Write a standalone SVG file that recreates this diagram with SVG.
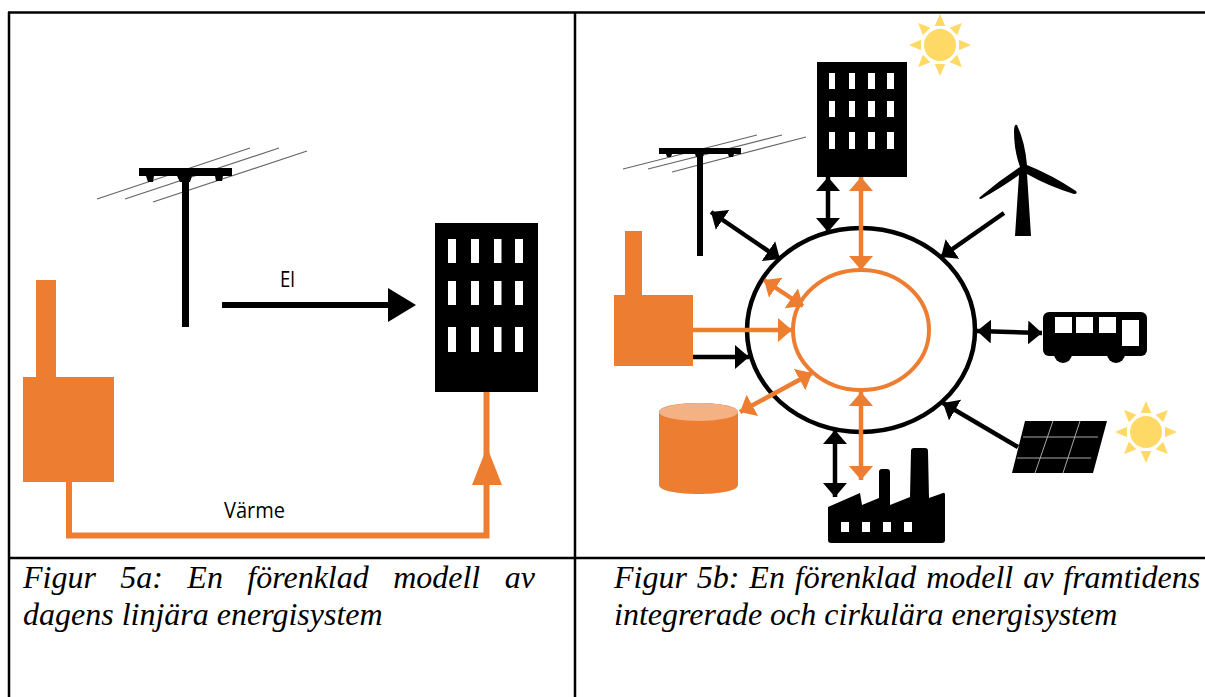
<svg xmlns="http://www.w3.org/2000/svg" width="1205" height="697" viewBox="0 0 1205 697">
<style>
.frame{stroke:#000;stroke-width:2.5;fill:none}
.or{fill:#ED7D31}
.bk{fill:#000}
.wh{fill:#fff}
.sun{fill:#FFD966}
.wire{stroke:#666;stroke-width:1.2;fill:none}
.lb{stroke:#000;fill:none}
.lo{stroke:#ED7D31;fill:none}
.cap{font-family:"Liberation Serif",serif;font-style:italic;font-size:32px;fill:#000}
.lab{font-family:"Open Sans","Liberation Sans",sans-serif;font-size:21px;fill:#000}
</style>
<defs>
<marker id="hb" viewBox="0 0 14 24" refX="14" refY="12" markerUnits="userSpaceOnUse" markerWidth="14" markerHeight="24" orient="auto-start-reverse"><path d="M0 0L14 12L0 24z" fill="#000"/></marker>
<marker id="ho" viewBox="0 0 14 24" refX="14" refY="12" markerUnits="userSpaceOnUse" markerWidth="14" markerHeight="24" orient="auto-start-reverse"><path d="M0 0L14 12L0 24z" fill="#ED7D31"/></marker>
<g id="ray"><path d="M0 -31L5.300 -19L-5.300 -19z" class="sun"/></g>
<g id="sunshape"><circle r="16" class="sun"/><use href="#ray"/><use href="#ray" transform="rotate(45)"/><use href="#ray" transform="rotate(90)"/><use href="#ray" transform="rotate(135)"/><use href="#ray" transform="rotate(180)"/><use href="#ray" transform="rotate(225)"/><use href="#ray" transform="rotate(270)"/><use href="#ray" transform="rotate(315)"/></g>
</defs>
<rect width="1205" height="697" fill="#fff"/>
<g id="table" class="frame"><path d="M8 12.500H1205M9 12V697M575 12V697M8 558H1205"/></g>

<g id="pole-a">
<path class="wire" d="M97 199L250 148M125 199L279 148M153 202L307 151"/>
<path class="bk" d="M139 168H232V176H223L222 181H216L215 176H192L190 182H189V327H182V182H180L177 176H154L153 182H148L146 176H139z"/>
</g>
<g id="factory-a"><path class="or" d="M36 280H56V377H114V482H23V377H36z"/></g>
<g id="building-a">
<rect x="435" y="223" width="103" height="169" class="bk"/>
<g class="wh"><rect x="448" y="239" width="8" height="24"/><rect x="471" y="239" width="8" height="24"/><rect x="494" y="239" width="7.500" height="24"/><rect x="515" y="239" width="8" height="24"/><rect x="448" y="281" width="8" height="24"/><rect x="471" y="281" width="8" height="24"/><rect x="494" y="281" width="7.500" height="24"/><rect x="515" y="281" width="8" height="24"/><rect x="448" y="327" width="8" height="25"/><rect x="471" y="327" width="8" height="25"/><rect x="494" y="327" width="7.500" height="25"/><rect x="515" y="327" width="8" height="25"/></g>
</g>
<g id="connectors-a">
<path class="bk" d="M222 302H388V288L416 305L388 322V308H222z"/>
<path class="lo" stroke-width="6" d="M69 482V535.500H486.500V392"/>
<path class="or" d="M472 485L487 447L502 485z"/>
<text class="lab" x="280" y="287" textLength="15" lengthAdjust="spacingAndGlyphs">El</text>
<text class="lab" x="224" y="518" textLength="61" lengthAdjust="spacingAndGlyphs">Värme</text>
</g>

<g id="pole-b">
<path class="wire" d="M623 169L757 135M648 169L782 135M672 172L806 137"/>
<path class="bk" d="M659 148H741V154H734L733 157H729L728 154H704L703 157V256H697V157H696L695 154H672L671 157H667L666 154H659z"/>
</g>
<g id="building-b">
<rect x="817" y="62" width="90" height="115" class="bk"/>
<g class="wh"><rect x="829" y="73" width="6" height="16"/><rect x="849" y="73" width="6" height="16"/><rect x="868" y="73" width="7" height="16"/><rect x="887" y="73" width="7" height="16"/><rect x="829" y="101" width="6" height="16"/><rect x="849" y="101" width="6" height="16"/><rect x="868" y="101" width="7" height="16"/><rect x="887" y="101" width="7" height="16"/><rect x="829" y="132" width="6" height="17"/><rect x="849" y="132" width="6" height="17"/><rect x="868" y="132" width="7" height="17"/><rect x="887" y="132" width="7" height="17"/></g>
</g>
<g id="sun-top"><use href="#sunshape" x="940" y="45"/></g>
<g id="turbine"><path class="bk" d="M1015 236L1019 175Q1004 186 981 199Q978 199 980 197Q1000 180 1020 167Q1014 150 1014 132Q1014 123 1017 125Q1025 142 1027 165Q1052 175 1076 191Q1078 194 1074 194Q1048 186 1027 174L1031 236z"/></g>
<g id="bus">
<rect x="1043" y="312" width="104" height="44" rx="6" class="bk"/><circle cx="1063" cy="354" r="9" class="bk"/><circle cx="1116" cy="354" r="9" class="bk"/>
<g class="wh"><rect x="1055" y="317" width="17" height="16"/><rect x="1076" y="317" width="17" height="16"/><rect x="1099" y="317" width="17" height="16"/><rect x="1122" y="320" width="17" height="26"/></g>
</g>
<g id="solar">
<path class="bk" d="M1025 421H1107L1093 473H1012z"/>
<path d="M1023 437H1098M1017 458H1091M1053 421L1035 473M1080 421L1063 473" stroke="#aaa" stroke-width="1" fill="none"/>
</g>
<g id="sun-solar"><use href="#sunshape" x="1146" y="432"/></g>
<g id="factory-b"><path class="or" d="M625 231H642V295H693V366H614V295H625z"/></g>
<g id="storage"><path class="or" d="M659 412C659 400 738 400 738 412V485C738 497 659 497 659 485z"/><ellipse cx="698.500" cy="412" rx="39.500" ry="9" fill="#F4B183"/></g>
<g id="factory-c"><path class="bk" d="M828 507L860 493L862 505L879 498V472Q879 469 882 469H887Q890 469 890 472V505L910 497L911 451Q911 448 914 448H925Q928 448 928 451L929 498L943 493Q945 492 945 495V540Q945 543 942 543H831Q828 543 828 540z"/><g class="wh"><rect x="841" y="522" width="8" height="10"/><rect x="862" y="522" width="8" height="10"/><rect x="883" y="522" width="8" height="10"/><rect x="904" y="522" width="8" height="10"/></g></g>
<g id="connectors-b">
<ellipse cx="861" cy="330" rx="114" ry="102" class="lb" stroke-width="4.500"/>
<ellipse cx="861" cy="330" rx="68" ry="60" class="lo" stroke-width="4"/>
<g class="lb" stroke-width="4.500">
<path d="M828 177V232" marker-start="url(#hb)" marker-end="url(#hb)"/>
<path d="M711 212L780 259" marker-start="url(#hb)" marker-end="url(#hb)"/>
<path d="M1004 213L941 257" marker-end="url(#hb)"/>
<path d="M693 357H749" marker-end="url(#hb)"/>
<path d="M835 430V497" marker-start="url(#hb)" marker-end="url(#hb)"/>
<path d="M977 331L1042 333" marker-start="url(#hb)" marker-end="url(#hb)"/>
<path d="M1018 447L943 403" marker-end="url(#hb)"/>
</g>
<g class="lo" stroke-width="4.500">
<path d="M861 177V270" marker-start="url(#ho)" marker-end="url(#ho)"/>
<path d="M693 330H792" marker-end="url(#ho)"/>
<path d="M764 280L803 306" marker-start="url(#ho)" marker-end="url(#ho)"/>
<path d="M740 412L812 373" marker-start="url(#ho)" marker-end="url(#ho)"/>
<path d="M861 392V480" marker-start="url(#ho)" marker-end="url(#ho)"/>
</g>
</g>

<g id="captions">
<text class="cap" x="23" y="588" word-spacing="16.400">Figur 5a: En förenklad modell av</text>
<text class="cap" x="23" y="625">dagens linjära energisystem</text>
<text class="cap" x="614" y="588" word-spacing="1.900">Figur 5b: En förenklad modell av framtidens</text>
<text class="cap" x="614" y="625">integrerade och cirkulära energisystem</text>
</g>
</svg>
